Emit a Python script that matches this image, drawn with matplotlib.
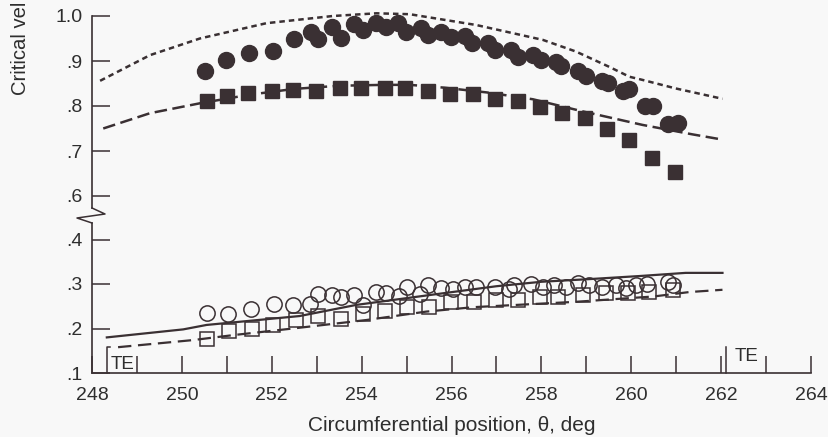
import matplotlib
matplotlib.use("Agg")
import matplotlib.pyplot as plt
from matplotlib.lines import Line2D

# ---------------- data ----------------
# upper section: filled circles
fc_theta = [250.51, 250.99, 251.50, 252.03, 252.49, 252.87, 253.03, 253.33, 253.55, 253.84,
            254.03, 254.33, 254.55, 254.81, 254.99, 255.33, 255.47, 255.77, 255.99, 256.29,
            256.46, 256.81, 256.96, 257.33, 257.47, 257.81, 258.00, 258.33, 258.44, 258.81,
            259.00, 259.35, 259.49, 259.82, 259.96, 260.31, 260.49, 260.81, 261.03]
fc_val = [0.878, 0.902, 0.917, 0.923, 0.950, 0.965, 0.950, 0.976, 0.952, 0.982,
          0.969, 0.984, 0.976, 0.984, 0.964, 0.973, 0.958, 0.964, 0.954, 0.956,
          0.941, 0.939, 0.924, 0.924, 0.910, 0.913, 0.902, 0.898, 0.890, 0.878,
          0.867, 0.856, 0.852, 0.834, 0.837, 0.801, 0.801, 0.760, 0.762]

# upper section: filled squares
fs_theta = [250.56, 251.01, 251.47, 252.01, 252.47, 252.99, 253.51, 253.99, 254.51, 254.96,
            255.47, 255.96, 256.47, 256.96, 257.47, 257.98, 258.45, 258.97, 259.45, 259.94,
            260.46, 260.97]
fs_val = [0.810, 0.822, 0.828, 0.834, 0.836, 0.834, 0.841, 0.839, 0.839, 0.839,
          0.833, 0.826, 0.826, 0.815, 0.810, 0.798, 0.785, 0.773, 0.748, 0.724,
          0.685, 0.654]

# upper section: short-dash curve
ud_theta = [248.18, 249.29, 250.40, 251.88, 253.36, 254.33, 255.07, 256.55, 258.03, 258.77,
            259.51, 259.96, 260.25, 260.99, 262.03]
ud_val = [0.856, 0.913, 0.950, 0.984, 1.000, 1.006, 1.004, 0.980, 0.947, 0.921,
          0.887, 0.865, 0.858, 0.839, 0.816]

# upper section: long-dash curve
ul_theta = [248.25, 249.29, 250.40, 251.50, 252.50, 253.50, 254.50, 255.07, 255.81, 256.80,
            257.81, 258.92, 260.25, 261.36, 261.99]
ul_val = [0.750, 0.784, 0.806, 0.825, 0.838, 0.845, 0.847, 0.847, 0.841, 0.830,
          0.815, 0.788, 0.758, 0.737, 0.726]

# lower section: open circles
oc_theta = [250.56, 251.03, 251.53, 252.04, 252.47, 252.86, 253.04, 253.34, 253.55, 253.84,
            254.03, 254.31, 254.55, 254.83, 255.00, 255.30, 255.47, 255.77, 256.03, 256.29,
            256.55, 256.96, 257.29, 257.40, 257.77, 258.03, 258.29, 258.55, 258.81, 259.07,
            259.36, 259.66, 259.88, 260.10, 260.36, 260.81, 260.92]
oc_val = [0.234, 0.232, 0.243, 0.255, 0.253, 0.255, 0.278, 0.275, 0.270, 0.275,
          0.253, 0.283, 0.279, 0.273, 0.294, 0.278, 0.298, 0.290, 0.288, 0.294,
          0.293, 0.293, 0.288, 0.298, 0.300, 0.293, 0.298, 0.294, 0.302, 0.298,
          0.294, 0.298, 0.290, 0.298, 0.300, 0.305, 0.298]

# lower section: open squares
os_theta = [250.56, 251.05, 251.55, 252.03, 252.55, 253.03, 253.53, 254.03, 254.53, 255.00,
            255.51, 255.99, 256.51, 256.99, 257.47, 257.96, 258.36, 258.92, 259.44, 259.92,
            260.40, 260.92]
os_val = [0.176, 0.195, 0.200, 0.208, 0.218, 0.228, 0.221, 0.233, 0.240, 0.248,
          0.249, 0.260, 0.260, 0.264, 0.264, 0.270, 0.271, 0.275, 0.279, 0.279,
          0.283, 0.287]

# lower section: solid curve
ls_theta = [248.33, 250.03, 250.55, 252.62, 253.88, 255.50, 257.00, 258.00, 259.07, 260.20,
            261.21, 262.03]
ls_val = [0.180, 0.198, 0.208, 0.228, 0.253, 0.275, 0.295, 0.305, 0.311, 0.318,
          0.325, 0.325]

# lower section: dashed curve
ld_theta = [248.58, 250.25, 251.13, 252.47, 254.10, 255.44, 256.50, 258.77, 260.50, 261.30,
            262.03]
ld_val = [0.158, 0.174, 0.185, 0.200, 0.219, 0.238, 0.248, 0.260, 0.272, 0.282,
          0.287]

top_ticks = [0.6, 0.7, 0.8, 0.9, 1.0]
top_labels = [".6", ".7", ".8", ".9", "1.0"]
bot_ticks = [0.1, 0.2, 0.3, 0.4]
bot_labels = [".1", ".2", ".3", ".4"]
x_major = [248, 250, 252, 254, 256, 258, 260, 262, 264]
x_minor = [249, 251, 253, 255, 257, 259, 261, 263]
te_left = 248.33
te_right = 262.1

# ---------------- style ----------------
BG = "#f8f8f8"
INK = "#3a3033"
TXT = "#2e2e2e"
plt.rcParams["font.family"] = ["Liberation Sans", "DejaVu Sans"]

W, H = 829, 437
fig = plt.figure(figsize=(W / 100, H / 100), dpi=100, facecolor=BG)

# pixel layout
x0, x1 = 92, 811
bot_y0, bot_y1 = 373, 223          # .1 at 373 px
top_y0, top_y1 = 208, 7            # 1.0 at 16 px
ax_bot = fig.add_axes([x0 / W, (H - bot_y0) / H, (x1 - x0) / W, (bot_y0 - bot_y1) / H])
ax_top = fig.add_axes([x0 / W, (H - top_y0) / H, (x1 - x0) / W, (top_y0 - top_y1) / H])

for ax in (ax_bot, ax_top):
    ax.set_facecolor("none")
    ax.set_xlim(248, 264)
    for s in ("top", "right"):
        ax.spines[s].set_visible(False)
    for s in ("left", "bottom"):
        ax.spines[s].set_linewidth(1.2)
        ax.spines[s].set_color(INK)
    ax.tick_params(direction="in", length=13, width=1.1, color=INK,
                   labelsize=14, labelcolor=TXT, pad=7)

ax_bot.set_ylim(0.1, 0.1 + (bot_y0 - bot_y1) / 445)
top_lo = 1.0 - (top_y0 - 16) / 450
ax_top.set_ylim(top_lo, 1.0 + (16 - top_y1) / 450)
ax_top.spines["bottom"].set_visible(False)
ax_top.spines["left"].set_bounds(top_lo, 1.0)
ax_top.tick_params(axis="x", bottom=False, labelbottom=False)

ax_top.set_yticks(top_ticks)
ax_top.set_yticklabels(top_labels)
ax_bot.set_yticks(bot_ticks)
ax_bot.set_yticklabels(bot_labels)
ax_bot.set_xticks(x_major)
ax_bot.set_xticklabels([str(v) for v in x_major])
ax_bot.set_xticks(x_minor, minor=True)
ax_bot.tick_params(axis="x", which="both", direction="in", length=12, width=1.1,
                   color=INK, pad=10)

# curves
ax_top.plot(ud_theta, ud_val, color=INK, lw=1.8, ls=(0, (2.2, 1.6)), clip_on=False)
ax_top.plot(ul_theta, ul_val, color=INK, lw=1.8, ls=(0, (5, 2.2)), clip_on=False)
ax_bot.plot(ls_theta, ls_val, color=INK, lw=1.6, clip_on=False)
ax_bot.plot(ld_theta, ld_val, color=INK, lw=1.6, ls=(0, (6, 3)), clip_on=False)

# markers
ax_top.plot(fc_theta, fc_val, "o", ms=11.5, color=INK, mec=INK, clip_on=False)
ax_top.plot(fs_theta, fs_val, "s", ms=10.5, color=INK, mec=INK, clip_on=False)
ax_bot.plot(oc_theta, oc_val, "o", ms=11, mfc="none", mec=INK, mew=1.1, clip_on=False)
ax_bot.plot(os_theta, os_val, "s", ms=10.5, mfc="none", mec=INK, mew=1.1, clip_on=False)

# trailing-edge markers
te_h = 26 / 445
ax_bot.plot([te_left + 0.08, te_left, te_left], [0.1 + te_h, 0.1 + te_h, 0.1],
            color=INK, lw=1.1, clip_on=False)
ax_bot.plot([te_right, te_right], [0.1, 0.1 + te_h], color=INK, lw=1.1, clip_on=False)
ax_bot.text(248.67, 0.119, "TE", fontsize=13.5, color=TXT, ha="center", va="center")
ax_bot.text(262.57, 0.136, "TE", fontsize=13.5, color=TXT, ha="center", va="center")

# axis break symbol
zz = [(92, 208), (105, 214), (77, 218), (92, 223)]
fig.add_artist(Line2D([p[0] / W for p in zz], [1 - p[1] / H for p in zz],
                      transform=fig.transFigure, color=INK, lw=1.1))

# labels
ax_bot.set_xlabel("Circumferential position, θ, deg", fontsize=15, color=TXT, labelpad=9)
fig.text(21 / W, 1 - 95 / H, "Critical vel", rotation=90,
         ha="center", va="bottom", fontsize=14.6, color=TXT)

fig.savefig("out.png", dpi=100, facecolor=BG)
